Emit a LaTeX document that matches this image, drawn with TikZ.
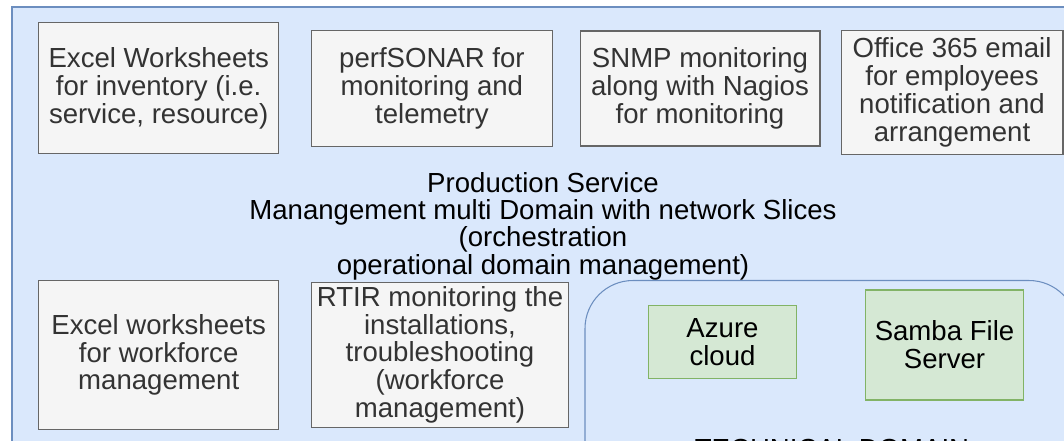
\documentclass[tikz,border=0pt]{standalone}
\usepackage{fontspec}
\setmainfont{Liberation Sans}
\usetikzlibrary{positioning}
\definecolor{outerfill}{HTML}{DAE8FC}
\definecolor{outerline}{HTML}{6C8EBF}
\definecolor{greyfill}{HTML}{F5F5F5}
\definecolor{greyline}{HTML}{666666}
\definecolor{greytext}{HTML}{333333}
\definecolor{greenfill}{HTML}{D5E8D4}
\definecolor{greenline}{HTML}{82B366}
\begin{document}
\begin{tikzpicture}[x=0.02cm,y=-0.02cm,line width=0.6pt,
    font=\fontsize{15.7pt}{15.8pt}\selectfont,
    tool/.style={draw=greyline,fill=greyfill,text=greytext,align=center,inner sep=0pt},
    cloud/.style={draw=greenline,fill=greenfill,text=black,align=center,inner sep=0pt}]

    \useasboundingbox (0,0) rectangle (1064,440);
    \clip (0,0) rectangle (1064,440);

    \draw[draw=outerline,fill=outerfill] (12,7) rectangle (1090,470);
    \draw[draw=outerline,fill=outerfill,rounded corners=0.96cm] (585,280.5) rectangle (1077,520);

    \node[anchor=base,align=center,inner sep=0pt,font=\fontsize{15.7pt}{15.5pt}\selectfont](prod) at (543,274) {Production Service\\Manangement multi Domain with network Slices\\(orchestration\\operational domain management)};

    \node[tool,minimum width=4.8cm,minimum height=2.63cm](inventory) at (158.7,88.2) {Excel Worksheets\\for inventory (i.e.\\service, resource)};
    \node[tool,minimum width=4.81cm,minimum height=2.31cm](perfsonar) at (431.9,88.4) {perfSONAR for\\monitoring and\\telemetry};
    \node[tool,minimum width=4.8cm,minimum height=2.3cm](snmp) at (700,88.5) {SNMP monitoring\\along with Nagios\\for monitoring};
    \node[tool,minimum width=4.44cm,minimum height=2.47cm](office) at (952,92.3) {Office 365 email\\for employees\\notification and\\arrangement};

    \node[tool,minimum width=4.8cm,minimum height=2.97cm](workforce) at (158.7,355) {Excel worksheets\\for workforce\\management};
    \node[tool,minimum width=5.13cm,minimum height=2.9cm](rtir) at (440,354.8) {RTIR monitoring the\\installations,\\troubleshooting\\(workforce\\management)};

    \node[cloud,minimum width=2.97cm,minimum height=1.45cm](azure) at (722.5,342) {Azure\\cloud};
    \node[cloud,minimum width=3.15cm,minimum height=2.2cm](samba) at (944.5,345) {Samba File\\Server};

    \node[anchor=base,inner sep=0pt](techdomain) at (832,458) {TECHNICAL DOMAIN};
\end{tikzpicture}
\end{document}
